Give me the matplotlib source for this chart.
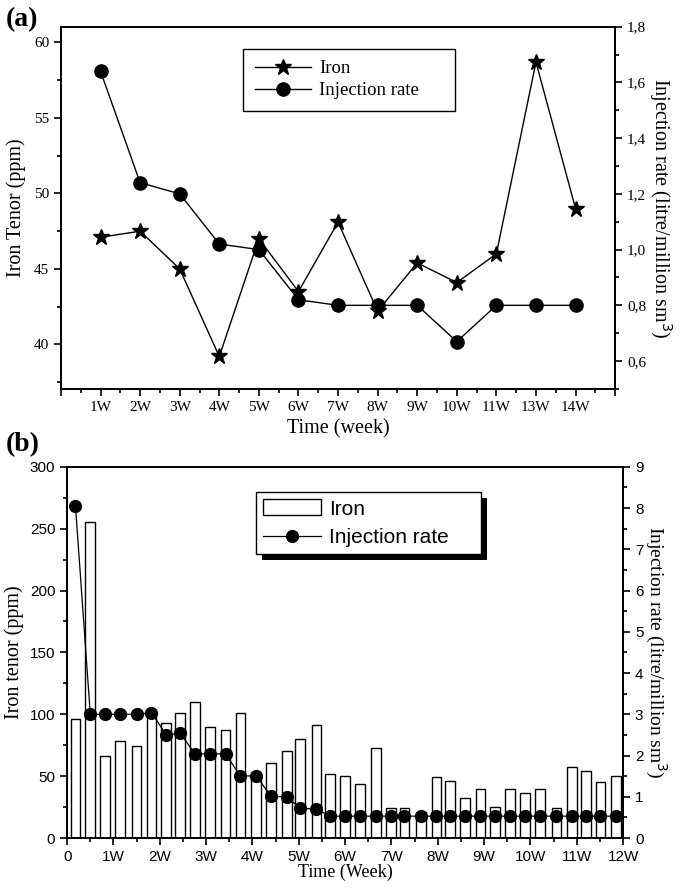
import matplotlib
matplotlib.use('Agg')
import matplotlib.pyplot as plt
from matplotlib.patches import Rectangle
from matplotlib.lines import Line2D
from matplotlib.ticker import MultipleLocator, FuncFormatter
from matplotlib.transforms import IdentityTransform

# ---- datos panel (a) ----
semanas_a = ['1W', '2W', '3W', '4W', '5W', '6W', '7W', '8W', '9W', '10W', '11W', '13W', '14W']
hierro_a = [47.1, 47.5, 45.0, 39.2, 47.0, 43.5, 48.1, 42.2, 45.4, 44.1, 46.0, 58.7, 49.0]
inyeccion_a = [1.64, 1.24, 1.20, 1.02, 1.00, 0.82, 0.80, 0.80, 0.80, 0.67, 0.80, 0.80, 0.80]

# ---- datos panel (b) ----
tiempo_b = [0.18, 0.50, 0.82, 1.14, 1.50, 1.82, 2.14, 2.44, 2.76, 3.08, 3.42, 3.74,
            4.08, 4.40, 4.74, 5.03, 5.38, 5.68, 6.00, 6.32, 6.67, 6.99, 7.28, 7.64,
            7.97, 8.27, 8.59, 8.92, 9.24, 9.56, 9.88, 10.20, 10.56, 10.89, 11.20,
            11.51, 11.85]
hierro_b = [96, 255, 66, 78, 74, 100, 93, 101, 110, 90, 87, 101,
            50, 61, 70, 80, 91, 52, 50, 44, 73, 24, 24.5, 21,
            49, 46, 32, 40, 25, 40, 36, 40, 24.5, 57, 54, 45, 50]
inyeccion_b = [8.05, 3.0, 3.0, 3.0, 3.0, 3.04, 2.5, 2.54, 2.04, 2.04, 2.04, 1.5,
               1.51, 1.01, 1.0, 0.72, 0.70, 0.53, 0.53, 0.53, 0.53, 0.53, 0.53, 0.53,
               0.53, 0.53, 0.53, 0.53, 0.53, 0.53, 0.53, 0.53, 0.53, 0.53, 0.53,
               0.53, 0.53]
etiquetas_b = ['0'] + [f'{i}W' for i in range(1, 13)]

serif = 'Liberation Serif'
sans = 'Liberation Sans'

fig = plt.figure(figsize=(6.85, 8.88), dpi=100)

# ================= Panel (a) =================
ax = fig.add_axes([0.089, 0.562, 0.809, 0.408])
ax2 = ax.twinx()
x_a = list(range(1, len(semanas_a) + 1))

l1, = ax.plot(x_a, hierro_a, '-', color='black', lw=1, marker='*', ms=12, zorder=3)
l2, = ax2.plot(x_a, inyeccion_a, '-', color='black', lw=1, marker='o', ms=9.5, zorder=3)

ax.set_xlim(0, 14)
ax.set_ylim(37.05, 61.05)
ax2.set_ylim(0.5, 1.8)
ax.set_xticks(range(0, 15))
ax.set_xticklabels([''] + semanas_a + [''])
ax.xaxis.set_minor_locator(MultipleLocator(0.5))
ax.yaxis.set_major_locator(MultipleLocator(5))
ax.yaxis.set_minor_locator(MultipleLocator(2.5))
ax2.yaxis.set_major_locator(MultipleLocator(0.2))
ax2.yaxis.set_minor_locator(MultipleLocator(0.1))
ax2.yaxis.set_major_formatter(FuncFormatter(lambda v, p: f'{v:.1f}'.replace('.', ',')))

for a in (ax, ax2):
    a.tick_params(which='major', direction='out', length=5, width=1.2, labelsize=11)
    a.tick_params(which='minor', direction='out', length=3, width=1.2)
    for lab in a.get_xticklabels() + a.get_yticklabels():
        lab.set_fontfamily(serif)
    for s in a.spines.values():
        s.set_linewidth(1.3)

ax.set_xlabel('Time (week)', fontsize=14.5, family=serif, labelpad=4)
ax.set_ylabel('Iron Tenor (ppm)', fontsize=14.5, family=serif, labelpad=6)
ax2.set_ylabel('Injection rate (litre/million sm$^3$)', fontsize=14.5, family=serif,
               rotation=270, labelpad=20)

# leyenda (a): caja ancha con el texto a la izquierda
leg_a = ax2.legend([l1, l2], ['Iron', 'Injection rate'], loc='upper left',
                   bbox_to_anchor=(0.329, 0.938, 0.382, 0.0), mode='expand',
                   prop={'family': serif, 'size': 13.5},
                   frameon=True, fancybox=False, edgecolor='black', framealpha=1,
                   handlelength=3.0, borderpad=0.6, labelspacing=0.25,
                   handletextpad=0.45, borderaxespad=0)
leg_a.get_frame().set_linewidth(1.0)

fig.text(0.008, 0.978, '(a)', fontsize=20, fontweight='bold', family=serif, va='center')

# ================= Panel (b) =================
bx = fig.add_axes([0.098, 0.0563, 0.8117, 0.418])
bx2 = bx.twinx()

bx.bar(tiempo_b, hierro_b, width=0.21, color='white', edgecolor='black', linewidth=1.0, zorder=2)
bx2.plot(tiempo_b, inyeccion_b, '-', color='black', lw=0.9, marker='o', ms=8.5, zorder=3)

bx.set_xlim(0, 12)
bx.set_ylim(0, 300)
bx2.set_ylim(0, 9)
bx.set_xticks(range(0, 13))
bx.set_xticklabels(etiquetas_b)
bx.xaxis.set_minor_locator(MultipleLocator(0.5))
bx.yaxis.set_major_locator(MultipleLocator(50))
bx.yaxis.set_minor_locator(MultipleLocator(25))
bx2.yaxis.set_major_locator(MultipleLocator(1))
bx2.yaxis.set_minor_locator(MultipleLocator(0.5))

for a in (bx, bx2):
    a.tick_params(which='major', direction='out', length=5, width=1.2, labelsize=11)
    a.tick_params(which='minor', direction='out', length=3, width=1.2)
    for lab in a.get_xticklabels() + a.get_yticklabels():
        lab.set_fontfamily(sans)
    for s in a.spines.values():
        s.set_linewidth(1.3)

bx.set_xlabel('Time (Week)', fontsize=13, family=serif, labelpad=0)
bx.set_ylabel('Iron tenor (ppm)', fontsize=14.5, family=serif, labelpad=4)
bx2.set_ylabel('Injection rate (litre/million sm$^3$)', fontsize=14, family=serif,
               rotation=270, labelpad=18)

hb = [Rectangle((0, 0), 1, 1, facecolor='white', edgecolor='black', linewidth=1.0),
      Line2D([], [], color='black', lw=0.9, marker='o', ms=8.5)]
leg_b = bx2.legend(hb, ['Iron', 'Injection rate'], loc='upper left',
                   bbox_to_anchor=(0.34, 0.932, 0.405, 0.0), mode='expand',
                   prop={'family': sans, 'size': 15},
                   frameon=True, fancybox=False, edgecolor='black', framealpha=1,
                   handlelength=2.75, handleheight=0.8, borderpad=0.35,
                   labelspacing=0.45, handletextpad=0.4, borderaxespad=0)
leg_b.get_frame().set_linewidth(1.0)

# sombra negra de la leyenda (b)
fig.canvas.draw()
bb = leg_b.get_window_extent()
sombra = Rectangle((bb.x0 + 6, bb.y0 - 6), bb.width, bb.height, facecolor='black',
                   edgecolor='none', transform=IdentityTransform(), zorder=4.9)
bx2.add_patch(sombra)

fig.text(0.008, 0.499, '(b)', fontsize=20, fontweight='bold', family=serif, va='center')

plt.savefig('out.png', dpi=100)
plt.close()
